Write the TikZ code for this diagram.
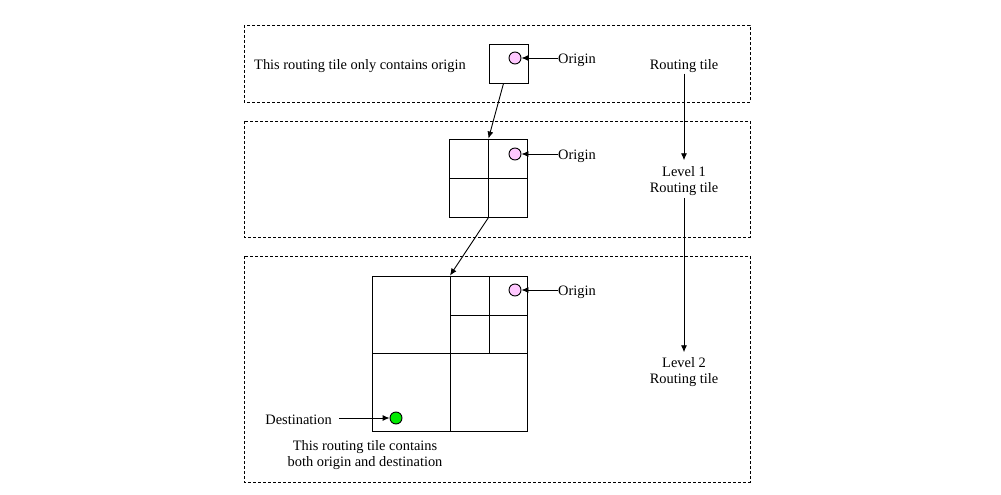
\documentclass[tikz,border=0pt]{standalone}
\usepackage{fontspec}
\setmainfont{Liberation Serif}
\usetikzlibrary{arrows.meta}
\definecolor{pinkfill}{RGB}{255,200,255}
\definecolor{greenfill}{RGB}{0,235,0}
\begin{document}
\begin{tikzpicture}[x=1pt,y=-1pt,
  lbl/.style={font=\fontsize{14.4}{16}\selectfont, inner sep=0pt, align=center},
  band/.style={draw, dash pattern=on 3pt off 2pt, line width=0.9pt},
  cell/.style={draw, line width=0.9pt, inner sep=0pt},
  dot/.style={circle, draw, minimum size=12pt, inner sep=0pt, line width=0.9pt},
  arr/.style={-{Latex[length=7pt,width=6pt]}, line width=0.9pt}]
\useasboundingbox (0,0) rectangle (1001,495);
% bands
\draw[band] (244,25) rectangle (750,102);
\draw[band] (244,121) rectangle (750,237);
\draw[band] (244,256) rectangle (750,482);
% tiles
\node[cell, minimum size=39pt] (t1) at (508.5,63.5) {};
\node[cell, minimum size=78pt] (t2) at (488.5,178) {};
\draw[line width=0.9pt] (t2.north) -- (t2.south) (t2.west) -- (t2.east);
\node[cell, minimum size=155pt] (t3) at (450,353.5) {};
\draw[line width=0.9pt] (t3.north) -- (t3.south) (t3.west) -- (t3.east);
\draw[line width=0.9pt] (489,276) -- (489,353.5) (450,315) -- (527.5,315);
% dots
\node[dot, fill=pinkfill] (o1) at (515,58) {};
\node[dot, fill=pinkfill] (o2) at (515,154) {};
\node[dot, fill=pinkfill] (o3) at (515,290) {};
\node[dot, fill=greenfill] (d) at (396,418) {};
% labels
\node[lbl, anchor=west] (lo1) at (558,60) {Origin};
\node[lbl, anchor=west] (lo2) at (558,156) {Origin};
\node[lbl, anchor=west] (lo3) at (558,292) {Origin};
\node[lbl, anchor=east] (ld) at (332,419.5) {Destination};
\node[lbl] (txt1) at (360,66) {This routing tile only contains origin};
\node[lbl] (txt2) at (365,455) {This routing tile contains\\both origin and destination};
\node[lbl] (r0) at (684,66) {Routing tile};
\node[lbl] (r1) at (684,181) {Level 1\\Routing tile};
\node[lbl] (r2) at (684,372) {Level 2\\Routing tile};
% connectors
\draw[arr] (lo1.west |- o1) -- (o1);
\draw[arr] (lo2.west |- o2) -- (o2);
\draw[arr] (lo3.west |- o3) -- (o3);
\draw[arr, shorten <=7pt] (ld.east |- d) -- (d);
\draw[arr, shorten <=1pt, shorten >=6pt] (r0) -- (r1);
\draw[arr, shorten <=2pt, shorten >=5pt] (r1) -- (r2);
\coordinate (s1) at ([xshift=-5pt]t1.south);
\draw[arr] (s1) -- (t2.north);
\draw[arr] (t2.south) -- (t3.north);
\end{tikzpicture}
\end{document}
